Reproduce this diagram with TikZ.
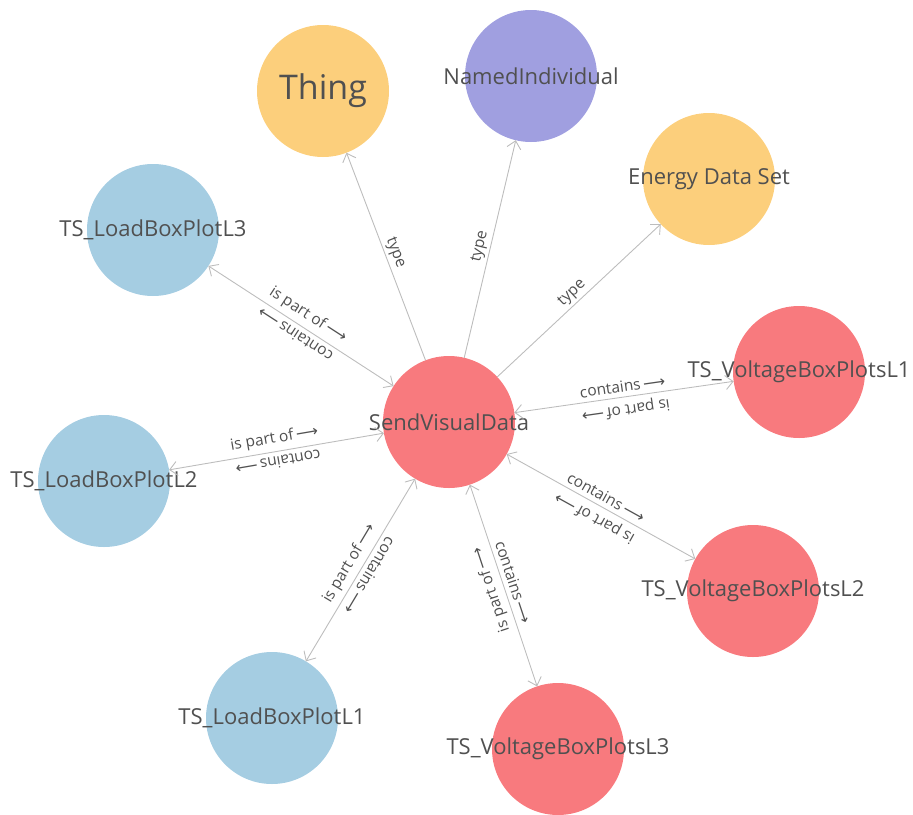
\documentclass[tikz,border=0pt]{standalone}
\usepackage{fontspec}
\setmainfont{Open Sans}
\newfontfamily\symfont{DejaVu Sans}
\usetikzlibrary{arrows.meta}
\definecolor{loadblue}{HTML}{A5CDE2}
\definecolor{voltred}{HTML}{F87A7E}
\definecolor{classyellow}{HTML}{FCCF7C}
\definecolor{indivpurple}{HTML}{A09FE0}
\definecolor{edgegrey}{HTML}{BDBDBD}
\definecolor{textgrey}{HTML}{505050}
\newcommand{\fwdarrow}{\,{\symfont ⟶}}
\newcommand{\lbl}[1]{\makebox[0pt]{#1}}
\tikzset{
  entity/.style={circle, minimum size=132pt, inner sep=0pt, outer sep=0pt,
    text=textgrey, font=\fontsize{22}{26}\selectfont},
  barb/.tip={Straight Barb[length=7.5pt,width=14pt]},
  link/.style={draw=edgegrey, line width=0.9pt, -barb},
  duallink/.style={draw=edgegrey, line width=0.9pt, barb-barb},
  edgetext/.style={font=\fontsize{15.5}{18}\selectfont, text=textgrey,
    sloped, allow upside down, above, inner sep=4.5pt, pos=0.5},
  backtext/.style={edgetext, rotate=180},
  typetext/.style={font=\fontsize{15.5}{18}\selectfont, text=textgrey,
    sloped, above, inner sep=2.5pt, pos=0.5},
}
\begin{document}
\begin{tikzpicture}[x=1pt, y=-1pt]
  \useasboundingbox (0,0) rectangle (913,814);

  % central individual
  \node[entity, fill=voltred] (C) at (449,422) {\lbl{SendVisualData}};

  % classes
  \node[entity, fill=classyellow, font=\fontsize{34}{40}\selectfont] (Thing) at (323,91) {\lbl{Thing}};
  \node[entity, fill=indivpurple] (NI) at (531,76) {\lbl{NamedIndividual}};
  \node[entity, fill=classyellow] (EDS) at (709,179) {\lbl{Energy Data Set}};

  % load box plots
  \node[entity, fill=loadblue] (L3) at (153,230) {\lbl{TS\_LoadBoxPlotL3}};
  \node[entity, fill=loadblue] (L2) at (104,481) {\lbl{TS\_LoadBoxPlotL2}};
  \node[entity, fill=loadblue] (L1) at (272,718) {\lbl{TS\_LoadBoxPlotL1}};

  % voltage box plots
  \node[entity, fill=voltred] (V1) at (799,372) {\lbl{TS\_VoltageBoxPlotsL1}};
  \node[entity, fill=voltred] (V2) at (753,591) {\lbl{TS\_VoltageBoxPlotsL2}};
  \node[entity, fill=voltred] (V3) at (558,749) {\lbl{TS\_VoltageBoxPlotsL3}};

  % type relations
  \draw[link] (C) -- node[typetext] {type} (Thing);
  \draw[link] (C) -- node[typetext] {type} (NI);
  \draw[link] (C) -- node[typetext] {type} (EDS);

  % part-of / contains relations
  \draw[duallink] (L3) -- node[edgetext] {is part of\fwdarrow} node[backtext] {contains\fwdarrow} (C);
  \draw[duallink] (L2) -- node[edgetext] {is part of\fwdarrow} node[backtext] {contains\fwdarrow} (C);
  \draw[duallink] (L1) -- node[edgetext] {is part of\fwdarrow} node[backtext] {contains\fwdarrow} (C);
  \draw[duallink] (C) -- node[edgetext] {contains\fwdarrow} node[backtext] {is part of\fwdarrow} (V1);
  \draw[duallink] (C) -- node[edgetext] {contains\fwdarrow} node[backtext] {is part of\fwdarrow} (V2);
  \draw[duallink] (C) -- node[edgetext] {contains\fwdarrow} node[backtext] {is part of\fwdarrow} (V3);
\end{tikzpicture}
\end{document}
